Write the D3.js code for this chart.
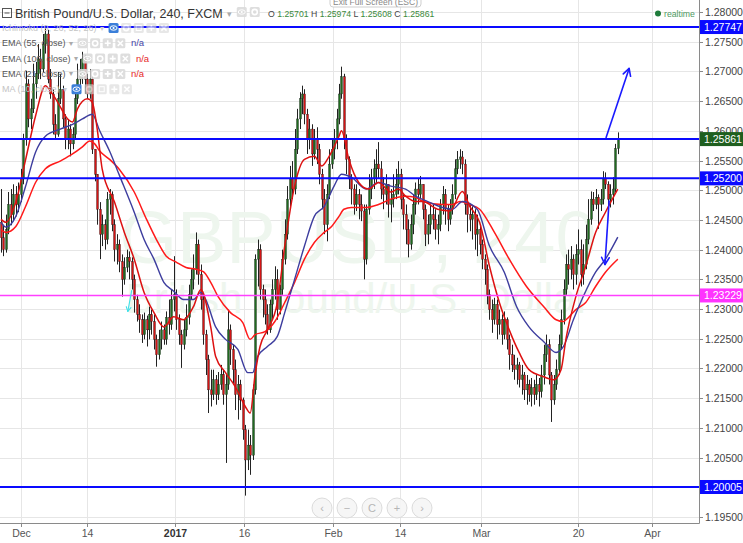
<!DOCTYPE html>
<html><head><meta charset="utf-8">
<script src="https://cdn.jsdelivr.net/npm/d3@7"></script>
<style>
html,body{margin:0;padding:0;background:#fff;}
svg{display:block;font-family:"Liberation Sans",Arial,sans-serif;}
</style></head><body>
<svg id="c" width="743" height="543"></svg>
<script>
// ---------- DATA ----------
// 8-hour-ish candles: [open, high, low, close]
const candles = [
[1.2446,1.2502,1.2395,1.2420],[1.2420,1.2442,1.2389,1.2400],[1.2400,1.2459,1.2395,1.2434],[1.2434,1.2497,1.2426,1.2476],
[1.2476,1.2502,1.2441,1.2459],[1.2459,1.2510,1.2449,1.2493],[1.2493,1.2507,1.2456,1.2476],[1.2476,1.2513,1.2463,1.2493],
[1.2493,1.2536,1.2480,1.2519],[1.2519,1.2595,1.2510,1.2586],[1.2586,1.2701,1.2575,1.2679],[1.2679,1.2687,1.2606,1.2620],
[1.2620,1.2654,1.2603,1.2637],[1.2637,1.2713,1.2630,1.2679],[1.2679,1.2716,1.2654,1.2696],[1.2696,1.2746,1.2687,1.2721],
[1.2721,1.2738,1.2687,1.2704],[1.2704,1.2763,1.2699,1.2746],[1.2746,1.2777,1.2730,1.2763],[1.2763,1.2770,1.2680,1.2687],
[1.2687,1.2704,1.2654,1.2662],[1.2662,1.2670,1.2594,1.2611],[1.2611,1.2628,1.2586,1.2594],[1.2594,1.2699,1.2590,1.2654],
[1.2654,1.2696,1.2645,1.2670],[1.2670,1.2676,1.2606,1.2620],[1.2620,1.2628,1.2569,1.2586],[1.2586,1.2620,1.2569,1.2603],
[1.2603,1.2611,1.2557,1.2578],[1.2578,1.2606,1.2569,1.2594],[1.2594,1.2670,1.2586,1.2654],[1.2654,1.2713,1.2645,1.2687],
[1.2687,1.2721,1.2670,1.2696],[1.2696,1.2733,1.2679,1.2721],[1.2721,1.2728,1.2662,1.2687],[1.2687,1.2696,1.2654,1.2662],
[1.2662,1.2704,1.2654,1.2687],[1.2687,1.2691,1.2561,1.2569],[1.2569,1.2569,1.2515,1.2527],[1.2527,1.2527,1.2442,1.2468],
[1.2468,1.2480,1.2384,1.2426],[1.2426,1.2459,1.2406,1.2442],[1.2442,1.2451,1.2400,1.2417],[1.2417,1.2497,1.2409,1.2485],
[1.2485,1.2502,1.2459,1.2493],[1.2493,1.2498,1.2431,1.2442],[1.2442,1.2451,1.2380,1.2400],[1.2400,1.2426,1.2375,1.2409],
[1.2409,1.2417,1.2362,1.2380],[1.2380,1.2392,1.2321,1.2350],[1.2350,1.2387,1.2341,1.2370],[1.2370,1.2400,1.2362,1.2387],
[1.2387,1.2397,1.2350,1.2380],[1.2380,1.2387,1.2333,1.2350],[1.2350,1.2358,1.2294,1.2316],[1.2316,1.2324,1.2279,1.2291],
[1.2291,1.2308,1.2260,1.2282],[1.2282,1.2291,1.2243,1.2257],[1.2257,1.2294,1.2249,1.2282],[1.2282,1.2289,1.2237,1.2265],
[1.2265,1.2304,1.2249,1.2291],[1.2291,1.2299,1.2257,1.2279],[1.2279,1.2291,1.2232,1.2249],[1.2249,1.2257,1.2203,1.2223],
[1.2223,1.2265,1.2215,1.2249],[1.2249,1.2279,1.2232,1.2265],[1.2265,1.2274,1.2240,1.2249],[1.2249,1.2296,1.2240,1.2286],
[1.2286,1.2316,1.2257,1.2274],[1.2274,1.2333,1.2265,1.2316],[1.2316,1.2389,1.2296,1.2324],[1.2324,1.2333,1.2265,1.2282],
[1.2282,1.2291,1.2240,1.2257],[1.2257,1.2265,1.2201,1.2240],[1.2240,1.2282,1.2232,1.2265],[1.2265,1.2308,1.2254,1.2286],
[1.2286,1.2341,1.2274,1.2324],[1.2324,1.2367,1.2316,1.2350],[1.2350,1.2392,1.2333,1.2367],[1.2367,1.2429,1.2358,1.2409],
[1.2409,1.2417,1.2341,1.2358],[1.2358,1.2375,1.2299,1.2316],[1.2316,1.2324,1.2240,1.2257],[1.2257,1.2265,1.2189,1.2215],
[1.2215,1.2223,1.2125,1.2164],[1.2164,1.2198,1.2136,1.2156],[1.2156,1.2198,1.2147,1.2181],[1.2181,1.2189,1.2139,1.2156],
[1.2156,1.2194,1.2147,1.2173],[1.2173,1.2206,1.2164,1.2190],[1.2190,1.2198,1.2139,1.2156],[1.2156,1.2189,1.2041,1.2173],
[1.2173,1.2299,1.2164,1.2265],[1.2265,1.2274,1.2206,1.2232],[1.2232,1.2240,1.2173,1.2198],[1.2198,1.2215,1.2130,1.2156],
[1.2156,1.2189,1.2114,1.2173],[1.2173,1.2181,1.2130,1.2147],[1.2147,1.2151,1.2080,1.2097],[1.2097,1.2105,1.1986,1.2046],
[1.2046,1.2097,1.2029,1.2071],[1.2071,1.2088,1.2021,1.2054],[1.2054,1.2173,1.2046,1.2164],[1.2164,1.2392,1.2156,1.2384],
[1.2384,1.2417,1.2338,1.2400],[1.2400,1.2409,1.2316,1.2333],[1.2333,1.2341,1.2286,1.2316],[1.2316,1.2333,1.2274,1.2291],
[1.2291,1.2308,1.2257,1.2265],[1.2265,1.2316,1.2260,1.2308],[1.2308,1.2350,1.2282,1.2333],[1.2333,1.2372,1.2316,1.2350],
[1.2350,1.2367,1.2282,1.2299],[1.2299,1.2341,1.2291,1.2333],[1.2333,1.2400,1.2324,1.2384],[1.2384,1.2451,1.2375,1.2426],
[1.2426,1.2507,1.2417,1.2485],[1.2485,1.2541,1.2468,1.2519],[1.2519,1.2549,1.2485,1.2502],[1.2502,1.2603,1.2493,1.2569],
[1.2569,1.2637,1.2561,1.2620],[1.2620,1.2665,1.2603,1.2654],[1.2654,1.2676,1.2628,1.2662],[1.2662,1.2670,1.2611,1.2628],
[1.2628,1.2637,1.2561,1.2586],[1.2586,1.2620,1.2569,1.2603],[1.2603,1.2611,1.2541,1.2561],[1.2561,1.2603,1.2552,1.2586],
[1.2586,1.2606,1.2544,1.2569],[1.2569,1.2578,1.2510,1.2527],[1.2527,1.2536,1.2468,1.2485],[1.2485,1.2502,1.2426,1.2442],
[1.2442,1.2510,1.2414,1.2493],[1.2493,1.2569,1.2485,1.2544],[1.2544,1.2586,1.2536,1.2569],[1.2569,1.2603,1.2552,1.2586],
[1.2586,1.2637,1.2569,1.2620],[1.2620,1.2679,1.2611,1.2662],[1.2662,1.2708,1.2654,1.2691],[1.2691,1.2696,1.2569,1.2586],
[1.2586,1.2594,1.2527,1.2552],[1.2552,1.2557,1.2502,1.2519],[1.2519,1.2527,1.2476,1.2502],[1.2502,1.2510,1.2459,1.2476],
[1.2476,1.2510,1.2465,1.2493],[1.2493,1.2502,1.2451,1.2476],[1.2476,1.2493,1.2448,1.2465],[1.2465,1.2476,1.2350,1.2384],
[1.2384,1.2476,1.2375,1.2468],[1.2468,1.2527,1.2459,1.2502],[1.2502,1.2536,1.2485,1.2519],[1.2519,1.2552,1.2502,1.2536],
[1.2536,1.2569,1.2510,1.2544],[1.2544,1.2581,1.2519,1.2536],[1.2536,1.2549,1.2485,1.2502],[1.2502,1.2522,1.2468,1.2493],
[1.2493,1.2527,1.2476,1.2510],[1.2510,1.2510,1.2454,1.2476],[1.2476,1.2502,1.2446,1.2485],[1.2485,1.2527,1.2471,1.2493],
[1.2493,1.2536,1.2485,1.2510],[1.2510,1.2549,1.2493,1.2527],[1.2527,1.2536,1.2468,1.2485],[1.2485,1.2493,1.2434,1.2459],
[1.2459,1.2476,1.2409,1.2434],[1.2434,1.2451,1.2387,1.2409],[1.2409,1.2459,1.2400,1.2442],[1.2442,1.2493,1.2426,1.2476],
[1.2476,1.2513,1.2459,1.2502],[1.2502,1.2519,1.2476,1.2493],[1.2493,1.2524,1.2485,1.2510],[1.2510,1.2510,1.2451,1.2468],
[1.2468,1.2476,1.2406,1.2426],[1.2426,1.2459,1.2409,1.2442],[1.2442,1.2476,1.2426,1.2459],[1.2459,1.2476,1.2434,1.2451],
[1.2451,1.2468,1.2417,1.2434],[1.2434,1.2459,1.2409,1.2442],[1.2442,1.2485,1.2431,1.2476],[1.2476,1.2507,1.2459,1.2493],
[1.2493,1.2502,1.2442,1.2468],[1.2468,1.2476,1.2431,1.2451],[1.2451,1.2485,1.2442,1.2468],[1.2468,1.2510,1.2459,1.2493],
[1.2493,1.2552,1.2485,1.2536],[1.2536,1.2566,1.2527,1.2552],[1.2552,1.2569,1.2536,1.2556],[1.2556,1.2566,1.2527,1.2544],
[1.2544,1.2552,1.2459,1.2476],[1.2476,1.2493,1.2429,1.2459],[1.2459,1.2476,1.2431,1.2451],[1.2451,1.2473,1.2417,1.2459],
[1.2459,1.2468,1.2400,1.2426],[1.2426,1.2459,1.2389,1.2434],[1.2434,1.2442,1.2392,1.2409],[1.2409,1.2417,1.2367,1.2384],
[1.2384,1.2392,1.2341,1.2367],[1.2367,1.2375,1.2308,1.2324],[1.2324,1.2333,1.2282,1.2299],[1.2299,1.2316,1.2260,1.2282],
[1.2282,1.2319,1.2274,1.2308],[1.2308,1.2316,1.2249,1.2274],[1.2274,1.2299,1.2257,1.2282],[1.2282,1.2291,1.2240,1.2257],
[1.2257,1.2296,1.2249,1.2282],[1.2282,1.2286,1.2232,1.2249],[1.2249,1.2257,1.2198,1.2223],[1.2223,1.2240,1.2194,1.2206],
[1.2206,1.2223,1.2181,1.2198],[1.2198,1.2218,1.2173,1.2206],[1.2206,1.2211,1.2168,1.2181],[1.2181,1.2206,1.2156,1.2189],
[1.2189,1.2194,1.2147,1.2164],[1.2164,1.2189,1.2139,1.2173],[1.2173,1.2181,1.2144,1.2156],[1.2156,1.2184,1.2136,1.2168],
[1.2168,1.2181,1.2139,1.2156],[1.2156,1.2189,1.2147,1.2173],[1.2173,1.2184,1.2136,1.2161],[1.2161,1.2206,1.2151,1.2189],
[1.2189,1.2240,1.2173,1.2223],[1.2223,1.2257,1.2211,1.2240],[1.2240,1.2249,1.2173,1.2189],[1.2189,1.2194,1.2110,1.2147],
[1.2147,1.2189,1.2139,1.2173],[1.2173,1.2215,1.2164,1.2198],[1.2198,1.2257,1.2189,1.2240],[1.2240,1.2299,1.2232,1.2282],
[1.2282,1.2350,1.2274,1.2333],[1.2333,1.2392,1.2324,1.2375],[1.2375,1.2400,1.2341,1.2367],[1.2367,1.2406,1.2350,1.2384],
[1.2384,1.2392,1.2333,1.2358],[1.2358,1.2409,1.2341,1.2392],[1.2392,1.2434,1.2375,1.2400],[1.2400,1.2417,1.2338,1.2358],
[1.2358,1.2409,1.2341,1.2375],[1.2375,1.2442,1.2367,1.2417],[1.2417,1.2485,1.2409,1.2451],[1.2451,1.2498,1.2442,1.2485],
[1.2485,1.2497,1.2465,1.2476],[1.2476,1.2502,1.2468,1.2488],[1.2488,1.2493,1.2435,1.2476],[1.2476,1.2502,1.2465,1.2485],
[1.2485,1.2532,1.2476,1.2519],[1.2519,1.2530,1.2502,1.2510],[1.2510,1.2515,1.2473,1.2485],[1.2485,1.2510,1.2471,1.2493],
[1.2493,1.2522,1.2476,1.2502],[1.2502,1.2578,1.2497,1.25701],[1.25701,1.25974,1.25608,1.25861]
];

// Indicator lines: [bar index, price]
const ema21 = [[0,1.2451],[2,1.2446],[6,1.2480],[10,1.2552],[14,1.2625],[18,1.2676],[20,1.2667],[23,1.2648],[27,1.2620],[29,1.2615],[31,1.2637],[35,1.2654],[37,1.2648],[39,1.2603],[41,1.2536],[46,1.2480],[50,1.2429],[54,1.2384],[58,1.2328],[62,1.2294],[66,1.2270],[70,1.2287],[74,1.2282],[78,1.2304],[81,1.2333],[85,1.2270],[87,1.2220],[91,1.2193],[95,1.2169],[99,1.2136],[101,1.2125],[103,1.2190],[105,1.2237],[108,1.2265],[112,1.2311],[115,1.2406],[119,1.2507],[123,1.2552],[127,1.2557],[130,1.2541],[133,1.2557],[137,1.2591],[138,1.2600],[141,1.2552],[145,1.2513],[149,1.2502],[153,1.2513],[158,1.2497],[161,1.2502],[164,1.2490],[168,1.2481],[171,1.2481],[177,1.2468],[182,1.2465],[187,1.2498],[190,1.2473],[194,1.2446],[198,1.2372],[202,1.2311],[206,1.2265],[210,1.2227],[214,1.2198],[220,1.2186],[224,1.2181],[227,1.2198],[229,1.2250],[233,1.2321],[237,1.2372],[241,1.2429],[245,1.2463],[250,1.2502]];
const ema55 = [[0,1.2446],[2,1.2438],[6,1.2456],[10,1.2507],[14,1.2564],[18,1.2591],[24,1.2603],[29,1.2611],[33,1.2620],[37,1.2628],[40,1.2600],[44,1.2566],[48,1.2525],[54,1.2463],[58,1.2417],[62,1.2384],[66,1.2345],[70,1.2330],[74,1.2316],[78,1.2316],[81,1.2328],[83,1.2316],[87,1.2270],[91,1.2249],[96,1.2232],[100,1.2193],[102,1.2193],[104,1.2220],[108,1.2237],[112,1.2254],[115,1.2294],[119,1.2350],[123,1.2406],[127,1.2456],[131,1.2473],[135,1.2507],[138,1.2527],[142,1.2522],[148,1.2502],[153,1.2513],[158,1.2507],[164,1.2502],[168,1.2490],[173,1.2481],[179,1.2471],[183,1.2468],[187,1.2481],[193,1.2468],[198,1.2406],[204,1.2362],[209,1.2304],[214,1.2270],[220,1.2245],[225,1.2227],[228,1.2237],[232,1.2282],[236,1.2321],[241,1.2362],[245,1.2384],[250,1.2421]];
const ema100 = [[0,1.2434],[2,1.2429],[6,1.2439],[10,1.2473],[14,1.2513],[18,1.2536],[24,1.2549],[29,1.2561],[33,1.2573],[36,1.2583],[38,1.2578],[40,1.2566],[44,1.2552],[48,1.2535],[54,1.2497],[59,1.2451],[63,1.2417],[67,1.2389],[71,1.2379],[75,1.2370],[79,1.2367],[82,1.2363],[85,1.2345],[88,1.2321],[93,1.2294],[98,1.2277],[101,1.2249],[103,1.2257],[107,1.2262],[111,1.2279],[115,1.2311],[119,1.2345],[123,1.2384],[127,1.2412],[131,1.2429],[134,1.2439],[137,1.2456],[139,1.2468],[142,1.2471],[148,1.2471],[153,1.2476],[158,1.2485],[164,1.2490],[168,1.2488],[171,1.2481],[179,1.2476],[183,1.2476],[186,1.2481],[190,1.2476],[194,1.2468],[200,1.2429],[206,1.2384],[213,1.2338],[220,1.2304],[225,1.2282],[228,1.2279],[229,1.2282],[233,1.2299],[237,1.2311],[241,1.2338],[245,1.2362],[250,1.2384]];

// Horizontal levels drawn on the chart
const resistanceLevels = [1.27747, 1.25861, 1.25200, 1.20005];
const supportLevel = [1.23229];
// Trend arrows [barFrom, priceFrom, barTo, priceTo]
const blueArrows = [[245.2,1.2588,254.6,1.2705],[246.5,1.2483,244.8,1.2375]];
const cyanArrows = [[53.0,1.2332,51.4,1.2296]];

// Axis ticks
const priceTicks = [1.195,1.200,1.205,1.210,1.215,1.220,1.225,1.230,1.235,1.240,1.245,1.250,1.255,1.260,1.265,1.270,1.275,1.280];
const dateTickBars = [8.1,34.9,70.5,98.3,134.6,161.7,194.6,233.9,263.9];
const dateTickLabels = ["Dec","14","2017","16","Feb","14","Mar","20","Apr"];

// ---------- DRAW ----------
const svg = d3.select('#c');
const PR = 699, PB = 523;
const x = d3.scaleLinear().domain([0, 283]).range([1, 699.2]);
const y = d3.scaleLinear().domain([1.195, 1.28]).range([517, 12]);
const fmt = d3.format('.5f');

svg.append('rect').attr('width',743).attr('height',543).attr('fill','#fff');

// grid
const grid = svg.append('g');
grid.selectAll('line.h').data(priceTicks).enter().append('line')
  .attr('x1',0).attr('x2',PR).attr('y1',d=>Math.round(y(d))+0.5).attr('y2',d=>Math.round(y(d))+0.5)
  .attr('stroke','#e6e6e6').attr('stroke-width',1);
grid.selectAll('line.v').data(dateTickBars).enter().append('line')
  .attr('y1',0).attr('y2',PB).attr('x1',d=>Math.round(x(d))+0.5).attr('x2',d=>Math.round(x(d))+0.5)
  .attr('stroke','#e6e6e6').attr('stroke-width',1);

// watermark
svg.append('text').attr('x',358).attr('y',263).attr('text-anchor','middle')
  .attr('font-size',74).attr('fill','#eef6ee').text('GBPUSD, 240');
svg.append('text').attr('x',358).attr('y',313).attr('text-anchor','middle')
  .attr('font-size',42).attr('fill','#eef6ee').text('British Pound/U.S. Dollar');

svg.append('clipPath').attr('id','plot').append('rect').attr('x',0).attr('y',0).attr('width',PR).attr('height',PB);
const plot = svg.append('g').attr('clip-path','url(#plot)');

// candles
const cg = plot.append('g');
candles.forEach((c,i)=>{
  const [o,h,l,cl] = c;
  const cx = Math.round(x(i));
  const up = cl >= o;
  cg.append('line').attr('x1',cx+0.5).attr('x2',cx+0.5)
    .attr('y1',y(Math.max(h,o,cl))).attr('y2',y(Math.min(l,o,cl)))
    .attr('stroke','#222').attr('stroke-width',1);
  const top = y(Math.max(o,cl)), bot = y(Math.min(o,cl));
  cg.append('rect').attr('x',cx-0.5).attr('y',top).attr('width',2)
    .attr('height',Math.max(1,bot-top))
    .attr('fill', up ? '#1f6b1f' : '#d41414')
    .attr('stroke','#1a1a1a').attr('stroke-width',0.35);
});

// EMAs
const line = d3.line().x(d=>x(d[0])).y(d=>y(d[1])).curve(d3.curveMonotoneX);
plot.append('path').datum(ema100).attr('d',line).attr('fill','none').attr('stroke','#ff1a1a').attr('stroke-width',1.5);
plot.append('path').datum(ema55).attr('d',line).attr('fill','none').attr('stroke','#3d3d9e').attr('stroke-width',1.4);
plot.append('path').datum(ema21).attr('d',line).attr('fill','none').attr('stroke','#dd1111').attr('stroke-width',1.5);

// horizontal levels
plot.selectAll('line.lev').data(resistanceLevels).enter().append('line')
  .attr('x1',0).attr('x2',PR).attr('y1',d=>y(d)).attr('y2',d=>y(d))
  .attr('stroke','#0a0aff').attr('stroke-width',2);
plot.selectAll('line.sup').data(supportLevel).enter().append('line')
  .attr('x1',0).attr('x2',PR).attr('y1',d=>y(d)).attr('y2',d=>y(d))
  .attr('stroke','#ff40ff').attr('stroke-width',1.5);

// arrows
function arrow(a, color, w, head){
  const x1=x(a[0]), y1=y(a[1]), x2=x(a[2]), y2=y(a[3]);
  plot.append('line').attr('x1',x1).attr('y1',y1).attr('x2',x2).attr('y2',y2)
    .attr('stroke',color).attr('stroke-width',w);
  const ang = Math.atan2(y2-y1, x2-x1);
  [-0.5,0.5].forEach(s=>{
    const a2 = ang + Math.PI + s;
    plot.append('line').attr('x1',x2).attr('y1',y2)
      .attr('x2',x2+head*Math.cos(a2)).attr('y2',y2+head*Math.sin(a2))
      .attr('stroke',color).attr('stroke-width',w).attr('stroke-linecap','round');
  });
}
blueArrows.forEach(a=>arrow(a,'#1a1aff',1.6,8));
cyanArrows.forEach(a=>arrow(a,'#3fe0e8',1.1,5));

// right axis
const ax = svg.append('g');
ax.append('rect').attr('x',PR).attr('y',0).attr('width',44).attr('height',543).attr('fill','#fff');
ax.append('rect').attr('x',0).attr('y',PB).attr('width',743).attr('height',20).attr('fill','#fff');
ax.append('line').attr('x1',PR+0.5).attr('x2',PR+0.5).attr('y1',0).attr('y2',PB+0.5).attr('stroke','#8a8a8a');
ax.append('line').attr('x1',0).attr('x2',PR+0.5).attr('y1',PB+0.5).attr('y2',PB+0.5).attr('stroke','#8a8a8a');
priceTicks.forEach(p=>{
  const yy = Math.round(y(p))+0.5;
  ax.append('line').attr('x1',PR).attr('x2',PR+4).attr('y1',yy).attr('y2',yy).attr('stroke','#8a8a8a');
  ax.append('text').attr('x',705).attr('y',yy+3.6).attr('font-size',10.5).attr('fill','#444').text(fmt(p));
});
// bottom axis
dateTickBars.forEach((b,i)=>{
  const xx = Math.round(x(b))+0.5;
  ax.append('line').attr('x1',xx).attr('x2',xx).attr('y1',PB).attr('y2',PB+4).attr('stroke','#8a8a8a');
  ax.append('text').attr('x',xx).attr('y',537).attr('text-anchor','middle').attr('font-size',10.5)
    .attr('font-weight', dateTickLabels[i]==='2017' ? 'bold':'normal')
    .attr('fill', dateTickLabels[i]==='2017' ? '#333':'#555').text(dateTickLabels[i]);
});
// level labels on the axis
const lastClose = candles[candles.length-1][3];
function axisLabel(p, bg){
  const yy = y(p);
  ax.append('rect').attr('x',PR+1).attr('y',yy-7).attr('width',43).attr('height',14).attr('fill',bg);
  ax.append('text').attr('x',704).attr('y',yy+3.8).attr('font-size',10.5).attr('fill','#fff').text(fmt(p));
}
resistanceLevels.forEach(p=> axisLabel(p, Math.abs(p-lastClose)<1e-6 ? '#1f5f1f' : '#0a0aff'));
supportLevel.forEach(p=> axisLabel(p, '#ff33ff'));

// nav buttons
const navG = svg.append('g');
['‹','−','C','+','›'].forEach((g,i)=>{
  const cx = 322 + i*25;
  navG.append('circle').attr('cx',cx).attr('cy',508).attr('r',10).attr('fill','#f5f5f5').attr('fill-opacity',0.9).attr('stroke','#dcdcdc');
  navG.append('text').attr('x',cx).attr('y',512).attr('text-anchor','middle').attr('font-size',11).attr('fill','#b5b5b5').text(g);
});

// header
const hd = svg.append('g');
hd.append('rect').attr('x',330).attr('y',-10).attr('width',91).attr('height',17).attr('rx',3).attr('fill','#fff').attr('stroke','#cfcfcf');
hd.append('text').attr('x',375.5).attr('y',4.5).attr('text-anchor','middle').attr('font-size',8.5).attr('fill','#888').text('Exit Full Screen (ESC)');
hd.append('rect').attr('x',2.5).attr('y',8.5).attr('width',9).attr('height',9).attr('fill','none').attr('stroke','#555');
hd.append('line').attr('x1',4.5).attr('x2',9.5).attr('y1',13).attr('y2',13).attr('stroke','#555');
const title = hd.append('text').attr('x',15).attr('y',18).attr('font-size',12.5).attr('fill','#333').text('British Pound/U.S. Dollar, 240, FXCM');
const tEnd = 15 + title.node().getComputedTextLength();
hd.append('text').attr('x',tEnd+4).attr('y',17).attr('font-size',9).attr('fill','#aaa').text('▾');

function iconBox(g, bx, by, kind, blue){
  g.append('rect').attr('x',bx).attr('y',by).attr('width',10).attr('height',10).attr('rx',1.5)
    .attr('fill', blue ? '#3b7fd9' : '#dadada').attr('fill-opacity', blue?1:0.9);
  const cx = bx+5, cy = by+5;
  if(kind==='eye'){
    g.append('ellipse').attr('cx',cx).attr('cy',cy).attr('rx',3.5).attr('ry',2.2).attr('fill','none').attr('stroke','#fff').attr('stroke-width',1);
    g.append('circle').attr('cx',cx).attr('cy',cy).attr('r',1).attr('fill','#fff');
  } else if(kind==='gear'){
    g.append('circle').attr('cx',cx).attr('cy',cy).attr('r',2.6).attr('fill','none').attr('stroke','#fff').attr('stroke-width',1.6);
  } else if(kind==='plus'){
    g.append('path').attr('d',`M${cx-3},${cy}H${cx+3}M${cx},${cy-3}V${cy+3}`).attr('stroke','#fff').attr('stroke-width',1.6);
  } else if(kind==='x'){
    g.append('path').attr('d',`M${cx-2.6},${cy-2.6}L${cx+2.6},${cy+2.6}M${cx+2.6},${cy-2.6}L${cx-2.6},${cy+2.6}`).attr('stroke','#fff').attr('stroke-width',1.5);
  } else if(kind==='copy'){
    g.append('rect').attr('x',cx-2.5).attr('y',cy-2.5).attr('width',5).attr('height',5).attr('fill','none').attr('stroke','#fff');
  }
}
iconBox(hd, tEnd+14, 7, 'eye', false);
iconBox(hd, tEnd+27, 7, 'gear', false);

// OHLC readout
const last = candles[candles.length-1];
const ohlc = hd.append('text').attr('x',268).attr('y',17).attr('font-size',8.7);
['O','H','L','C'].forEach((k,i)=>{
  ohlc.append('tspan').attr('fill','#444').text((i?'  ':'')+k+' ');
  ohlc.append('tspan').attr('fill','#3b8a3b').text(fmt(last[i]));
});
hd.append('circle').attr('cx',658).attr('cy',13.5).attr('r',3).attr('fill','#1e7b3a');
hd.append('text').attr('x',664).attr('y',16.5).attr('font-size',8.7).attr('fill','#4e9a62').text('realtime');

// indicator legend
const legendRows = [
  {name:'Ichimoku (9, 26, 52, 26)', faded:true, icons:['eye','gear','copy','plus','x'], na:null},
  {name:'EMA (55, close)', faded:false, icons:['eye','gear','plus','x'], na:'#4646a8'},
  {name:'EMA (100, close)', faded:false, icons:['eye','gear','plus','x'], na:'#e62828'},
  {name:'EMA (21, close)', faded:false, icons:['eye','gear','plus','x'], na:'#e62828'},
  {name:'MA (10, close)', faded:true, icons:['eye','gear','copy','plus','x'], na:null}
];
const lg = svg.append('g');
legendRows.forEach((r,i)=>{
  const by = 31 + i*15.3;
  const t = lg.append('text').attr('x',2).attr('y',by).attr('font-size',9)
    .attr('fill', r.faded ? '#c4c4c4' : '#555').text(r.name);
  const w = t.node().getComputedTextLength();
  lg.append('text').attr('x',w+5).attr('y',by-0.5).attr('font-size',8).attr('fill', r.faded?'#ccc':'#aaa').text('▾');
  let bx = w + 14;
  r.icons.forEach((k,j)=>{
    const g = lg.append('g').attr('opacity', r.faded && j>0 ? 0.7 : 1);
    iconBox(g, bx, by-8, k, r.faded && j===0);
    bx += 12.6;
  });
  if(r.na){
    lg.append('text').attr('x',bx+3).attr('y',by).attr('font-size',9.5).attr('fill',r.na).text('n/a');
  }
});
</script>
</body></html>
